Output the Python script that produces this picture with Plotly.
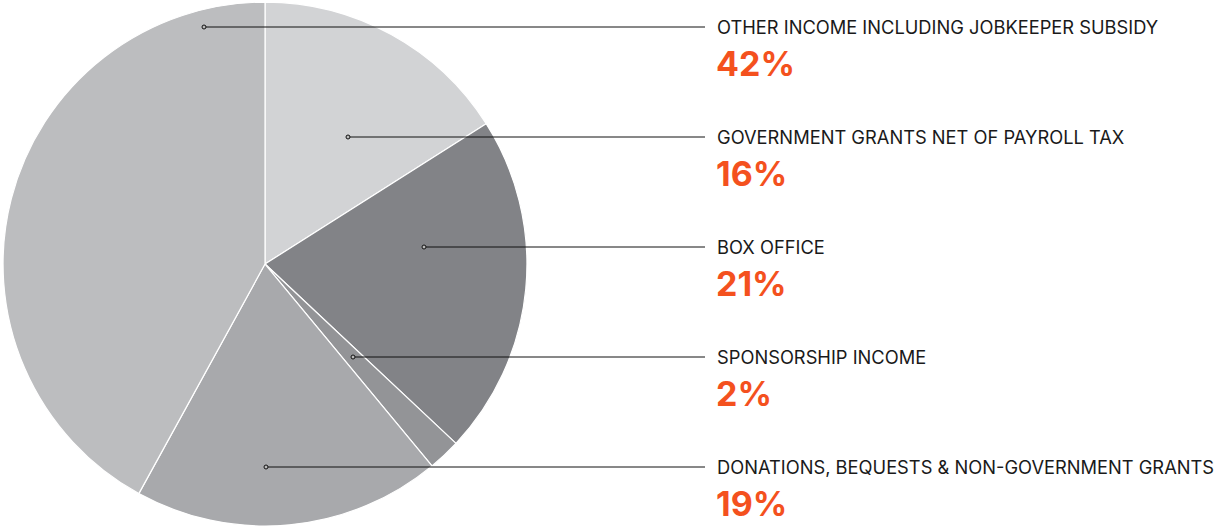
import plotly.graph_objects as go

# Data
categories = [
    "GOVERNMENT GRANTS NET OF PAYROLL TAX",
    "BOX OFFICE",
    "SPONSORSHIP INCOME",
    "DONATIONS, BEQUESTS & NON-GOVERNMENT GRANTS",
    "OTHER INCOME INCLUDING JOBKEEPER SUBSIDY",
]
values = [16, 21, 2, 19, 42]
colors = ["#d2d3d5", "#828387", "#939497", "#a8a9ac", "#bcbdbf"]

# Label order (top to bottom) and layout positions (pixels)
label_order = [4, 0, 1, 2, 3]
row_y = [27, 137, 247, 357, 467]
dot_x = [204, 348, 424, 353, 266]

W, H = 1217, 526

fig = go.Figure()
fig.add_trace(go.Pie(
    labels=categories,
    values=values,
    sort=False,
    direction="clockwise",
    rotation=0,
    marker=dict(colors=colors, line=dict(color="white", width=1.2)),
    textinfo="none",
    hoverinfo="label+percent",
    domain=dict(x=[3 / W, 527 / W], y=[0, 0.996]),
    showlegend=False,
))

shapes = []
annotations = []
for i, idx in enumerate(label_order):
    y = row_y[i]
    x0 = dot_x[i]
    shapes.append(dict(type="line", xref="x", yref="y", x0=x0, x1=705, y0=y, y1=y,
                       line=dict(color="#111111", width=1), layer="above"))
    shapes.append(dict(type="circle", xref="x", yref="y", x0=x0 - 2, x1=x0 + 2, y0=y - 2, y1=y + 2,
                       line=dict(color="#111111", width=1), fillcolor="#bbbbbb", layer="above"))
    annotations.append(dict(x=715, y=y, xref="x", yref="y", text=categories[idx],
                            showarrow=False, xanchor="left", yanchor="middle",
                            font=dict(family="Inter, Roboto, sans-serif", size=18.3, color="#1a1a1a")))
    annotations.append(dict(x=714, y=y + 36, xref="x", yref="y", text="<b>%d%%</b>" % values[idx],
                            showarrow=False, xanchor="left", yanchor="middle",
                            font=dict(family="Inter, Roboto, sans-serif", size=34, color="#f4511e")))

fig.update_layout(
    width=W, height=H,
    margin=dict(l=0, r=0, t=0, b=0),
    paper_bgcolor="white", plot_bgcolor="rgba(0,0,0,0)",
    xaxis=dict(range=[0, W], visible=False, fixedrange=True),
    yaxis=dict(range=[H, 0], visible=False, fixedrange=True),
    shapes=shapes,
    annotations=annotations,
)

fig.write_html("out.html", config={"displayModeBar": False},
               post_script="document.body.style.margin='0';")
